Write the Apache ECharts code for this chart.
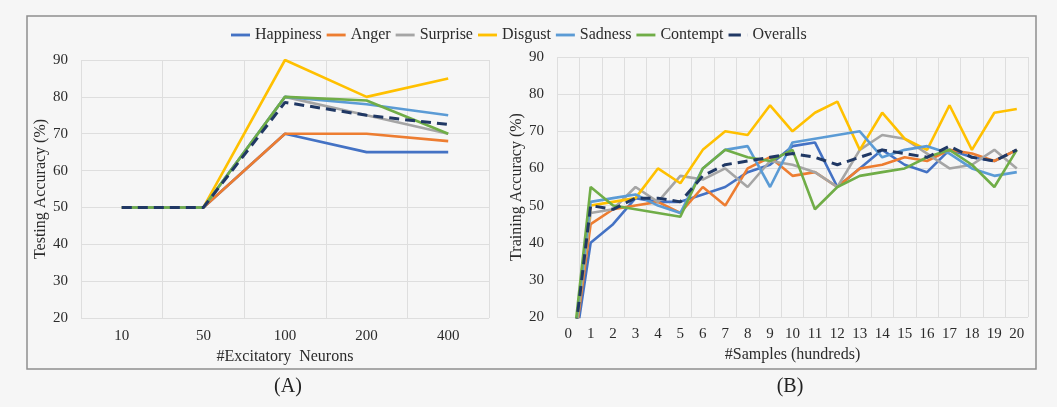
<!DOCTYPE html>
<html>
<head>
<meta charset="utf-8">
<script src="https://cdn.jsdelivr.net/npm/echarts@6/dist/echarts.min.js"></script>
<style>
  html, body { margin: 0; padding: 0; background: #f6f6f6; }
  #chart { width: 1057px; height: 407px; }
</style>
</head>
<body>
<div id="chart"></div>
<script>
// Series names and colours (shared by both panels)
const seriesNames = ['Happiness', 'Anger', 'Surprise', 'Disgust', 'Sadness', 'Contempt', 'Overalls'];
const seriesColors = ['#4472C4', '#ED7D31', '#A5A5A5', '#FFC000', '#5B9BD5', '#70AD47', '#203864'];

// Panel A: testing accuracy vs number of excitatory neurons
const neuronCounts = ['10', '50', '100', '200', '400'];
const testHappiness = [50, 50, 70, 65, 65];
const testAnger     = [50, 50, 70, 70, 68];
const testSurprise  = [50, 50, 80, 75, 70];
const testDisgust   = [50, 50, 90, 80, 85];
const testSadness   = [50, 50, 80, 78, 75];
const testContempt  = [50, 50, 80, 79, 70];
const testOveralls  = [50, 50, 78.5, 75, 72.5];

// Panel B: training accuracy vs number of samples (hundreds)
const sampleCounts = ['0','1','2','3','4','5','6','7','8','9','10','11','12','13','14','15','16','17','18','19','20'];
const trainHappiness = [0, 40, 45, 52, 51, 51, 53, 55, 59, 61, 66, 67, 55, 60, 65, 61, 59, 65, 63, 62, 65];
const trainAnger     = [0, 45, 49, 50, 51, 48, 55, 50, 60, 63, 58, 59, 55, 60, 61, 63, 62, 65, 64, 62, 65];
const trainSurprise  = [0, 48, 49, 55, 51, 58, 57, 60, 55, 62, 61, 59, 55, 65, 69, 68, 64, 60, 61, 65, 60];
const trainDisgust   = [0, 50, 51, 52, 60, 56, 65, 70, 69, 77, 70, 75, 78, 65, 75, 68, 65, 77, 65, 75, 76];
const trainSadness   = [0, 51, 52, 53, 50, 48, 60, 65, 66, 55, 67, 68, 69, 70, 63, 65, 66, 64, 60, 58, 59];
const trainContempt  = [0, 55, 50, 49, 48, 47, 60, 65, 63, 62, 65, 49, 55, 58, 59, 60, 63, 65, 61, 55, 65];
const trainOveralls  = [0, 50, 49, 52, 52, 51, 58, 61, 62, 63, 64, 63, 61, 63, 65, 64, 63, 66, 63, 62, 65];

const testData  = [testHappiness, testAnger, testSurprise, testDisgust, testSadness, testContempt, testOveralls];
const trainData = [trainHappiness, trainAnger, trainSurprise, trainDisgust, trainSadness, trainContempt, trainOveralls];

const FONT = "'Liberation Serif', 'Times New Roman', serif";
const TEXT = '#2b2b2b';
const GRIDLINE = '#dedede';

// Legend keys: a solid stroke, and a single dash for the dashed average line
const SOLID_KEY = 'path://M0,0H20V3H0Z';
const DASH_KEY = 'path://M0,0H13V3H0Z M19.9,0H20V3H19.9Z';

function makeSeries(dataSets, axisIndex) {
  return dataSets.map((d, i) => ({
    name: seriesNames[i],
    type: 'line',
    xAxisIndex: axisIndex,
    yAxisIndex: axisIndex,
    data: d,
    symbol: 'none',
    showSymbol: false,
    clip: true,
    z: 2 + i,
    lineStyle: {
      color: seriesColors[i],
      width: i === 6 ? 3 : 2.6,
      type: i === 6 ? [10, 6] : 'solid'
    },
    itemStyle: { color: seriesColors[i] }
  }));
}

function catAxis(gridIndex, data, name, labelMargin, nameGap) {
  return {
    type: 'category',
    gridIndex,
    data,
    boundaryGap: true,
    name,
    nameLocation: 'middle',
    nameGap,
    nameTextStyle: { fontFamily: FONT, fontSize: 16, color: TEXT },
    axisLine: { show: false },
    axisTick: { show: false },
    axisLabel: { fontFamily: FONT, fontSize: 15, color: TEXT, margin: labelMargin, interval: 0 },
    splitLine: { show: true, lineStyle: { color: GRIDLINE, width: 1 } }
  };
}

function valAxis(gridIndex, name, nameGap) {
  return {
    type: 'value',
    gridIndex,
    min: 20,
    max: 90,
    interval: 10,
    name,
    nameLocation: 'middle',
    nameGap,
    nameTextStyle: { fontFamily: FONT, fontSize: 16, color: TEXT },
    axisLine: { show: false },
    axisTick: { show: false },
    axisLabel: { fontFamily: FONT, fontSize: 15, color: TEXT, margin: 13 },
    splitLine: { show: true, lineStyle: { color: GRIDLINE, width: 1 } }
  };
}

const chart = echarts.init(document.getElementById('chart'), null, { renderer: 'canvas' });

chart.setOption({
  backgroundColor: '#f6f6f6',
  animation: false,
  color: seriesColors,
  title: [
    { text: '(A)', left: 283, top: 372, textAlign: 'center',
      textStyle: { fontFamily: FONT, fontSize: 20, fontWeight: 'normal', color: '#222' } },
    { text: '(B)', left: 785, top: 372, textAlign: 'center',
      textStyle: { fontFamily: FONT, fontSize: 20, fontWeight: 'normal', color: '#222' } }
  ],
  legend: {
    left: 226,
    top: 22,
    itemWidth: 19,
    itemHeight: 3,
    itemGap: 5,
    data: seriesNames.map((n, i) => ({ name: n, icon: i === 6 ? DASH_KEY : SOLID_KEY })),
    textStyle: { fontFamily: FONT, fontSize: 16, color: TEXT }
  },
  graphic: [
    {
      type: 'rect',
      shape: { x: 27, y: 16, width: 1009, height: 353 },
      style: { fill: null, stroke: '#8f8f8f', lineWidth: 1.5 },
      silent: true
    }
  ],
  grid: [
    { left: 81, right: 568, top: 60, bottom: 89, show: false },
    { left: 557, right: 29, top: 57, bottom: 90, show: false }
  ],
  xAxis: [
    catAxis(0, neuronCounts, '#Excitatory  Neurons', 11, 30),
    catAxis(1, sampleCounts, '#Samples (hundreds)', 10, 29)
  ],
  yAxis: [
    valAxis(0, 'Testing Accuracy (%)', 28),
    valAxis(1, 'Training Accuracy (%)', 30)
  ],
  series: [...makeSeries(testData, 0), ...makeSeries(trainData, 1)]
});
</script>
</body>
</html>
